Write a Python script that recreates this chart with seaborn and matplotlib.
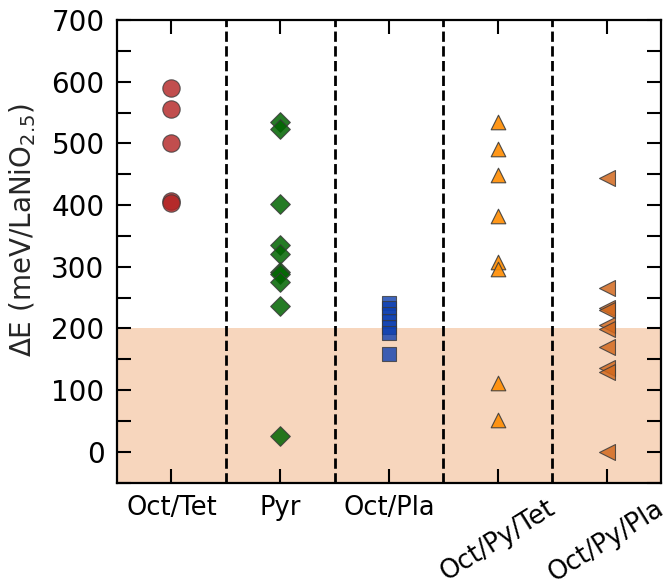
import numpy as np
import pandas as pd
import matplotlib
matplotlib.use("Agg")
import matplotlib.pyplot as plt
import seaborn as sns
from matplotlib.ticker import MultipleLocator

categories = ["Oct/Tet", "Pyr", "Oct/Pla", "Oct/Py/Tet", "Oct/Py/Pla"]
oct_tet = [590, 555, 500, 407, 403]
pyr = [535, 523, 402, 335, 320, 292, 288, 276, 237, 26]
oct_pla = [241, 233, 224, 212, 203, 193, 159]
oct_py_tet = [534, 491, 448, 383, 308, 296, 111, 52]
oct_py_pla = [444, 266, 233, 230, 205, 199, 170, 135, 130, 0]

series = [oct_tet, pyr, oct_pla, oct_py_tet, oct_py_pla]
markers = ["o", "D", "s", "^", "<"]
colors = ["#b22222", "#006400", "#0d3fb0", "#ff8c00", "#d2691e"]
sizes = [12.5, 10, 10.5, 10.5, 11.5]
alphas = [0.8, 0.85, 0.8, 0.9, 0.85]

sns.set_style("white")
plt.rcParams["font.family"] = ["DejaVu Sans"]

fig = plt.figure(figsize=(6.65, 5.8), dpi=100)
ax = fig.add_axes([0.176, 0.168, 0.818, 0.7975])

ax.axhspan(-50, 200, color="#f7d6bd", zorder=0, lw=0)

for cat, vals, m, c, s, a in zip(categories, series, markers, colors, sizes, alphas):
    df = pd.DataFrame({"cat": [cat] * len(vals), "val": vals})
    sns.stripplot(data=df, x="cat", y="val", order=categories, jitter=False,
                  marker=m, color=c, size=s, alpha=a, edgecolor="#3a3a3a",
                  linewidth=0.8, ax=ax, zorder=3)

for xv in [0.5, 1.5, 2.5, 3.5]:
    ax.axvline(xv, color="black", ls="--", lw=2, zorder=2)

ax.set_xlim(-0.5, 4.5)
ax.set_ylim(-50, 700)
ax.yaxis.set_major_locator(MultipleLocator(100))
ax.yaxis.set_minor_locator(MultipleLocator(50))
ax.set_xticks(range(len(categories)))
ax.set_xticklabels(categories)
for i, lab in enumerate(ax.get_xticklabels()):
    if i >= 3:
        lab.set_rotation(32)
        lab.set_ha("center")

ax.tick_params(axis="both", which="both", direction="in", length=10, width=1.5,
               top=True, right=True, bottom=True, left=True, pad=9, colors="black")
ax.tick_params(axis="y", which="major", labelsize=20)
ax.tick_params(axis="x", which="major", labelsize=18.5)
ax.tick_params(axis="x", which="minor", top=False, bottom=False)

for sp in ax.spines.values():
    sp.set_linewidth(1.6)
    sp.set_color("black")
    sp.set_visible(True)

ax.set_xlabel("")
ax.set_ylabel(r"$\Delta$E (meV/LaNiO$_{2.5}$)", fontsize=20)
ax.yaxis.set_label_coords(-0.145, 0.545)

fig.savefig("out.png", dpi=100)
